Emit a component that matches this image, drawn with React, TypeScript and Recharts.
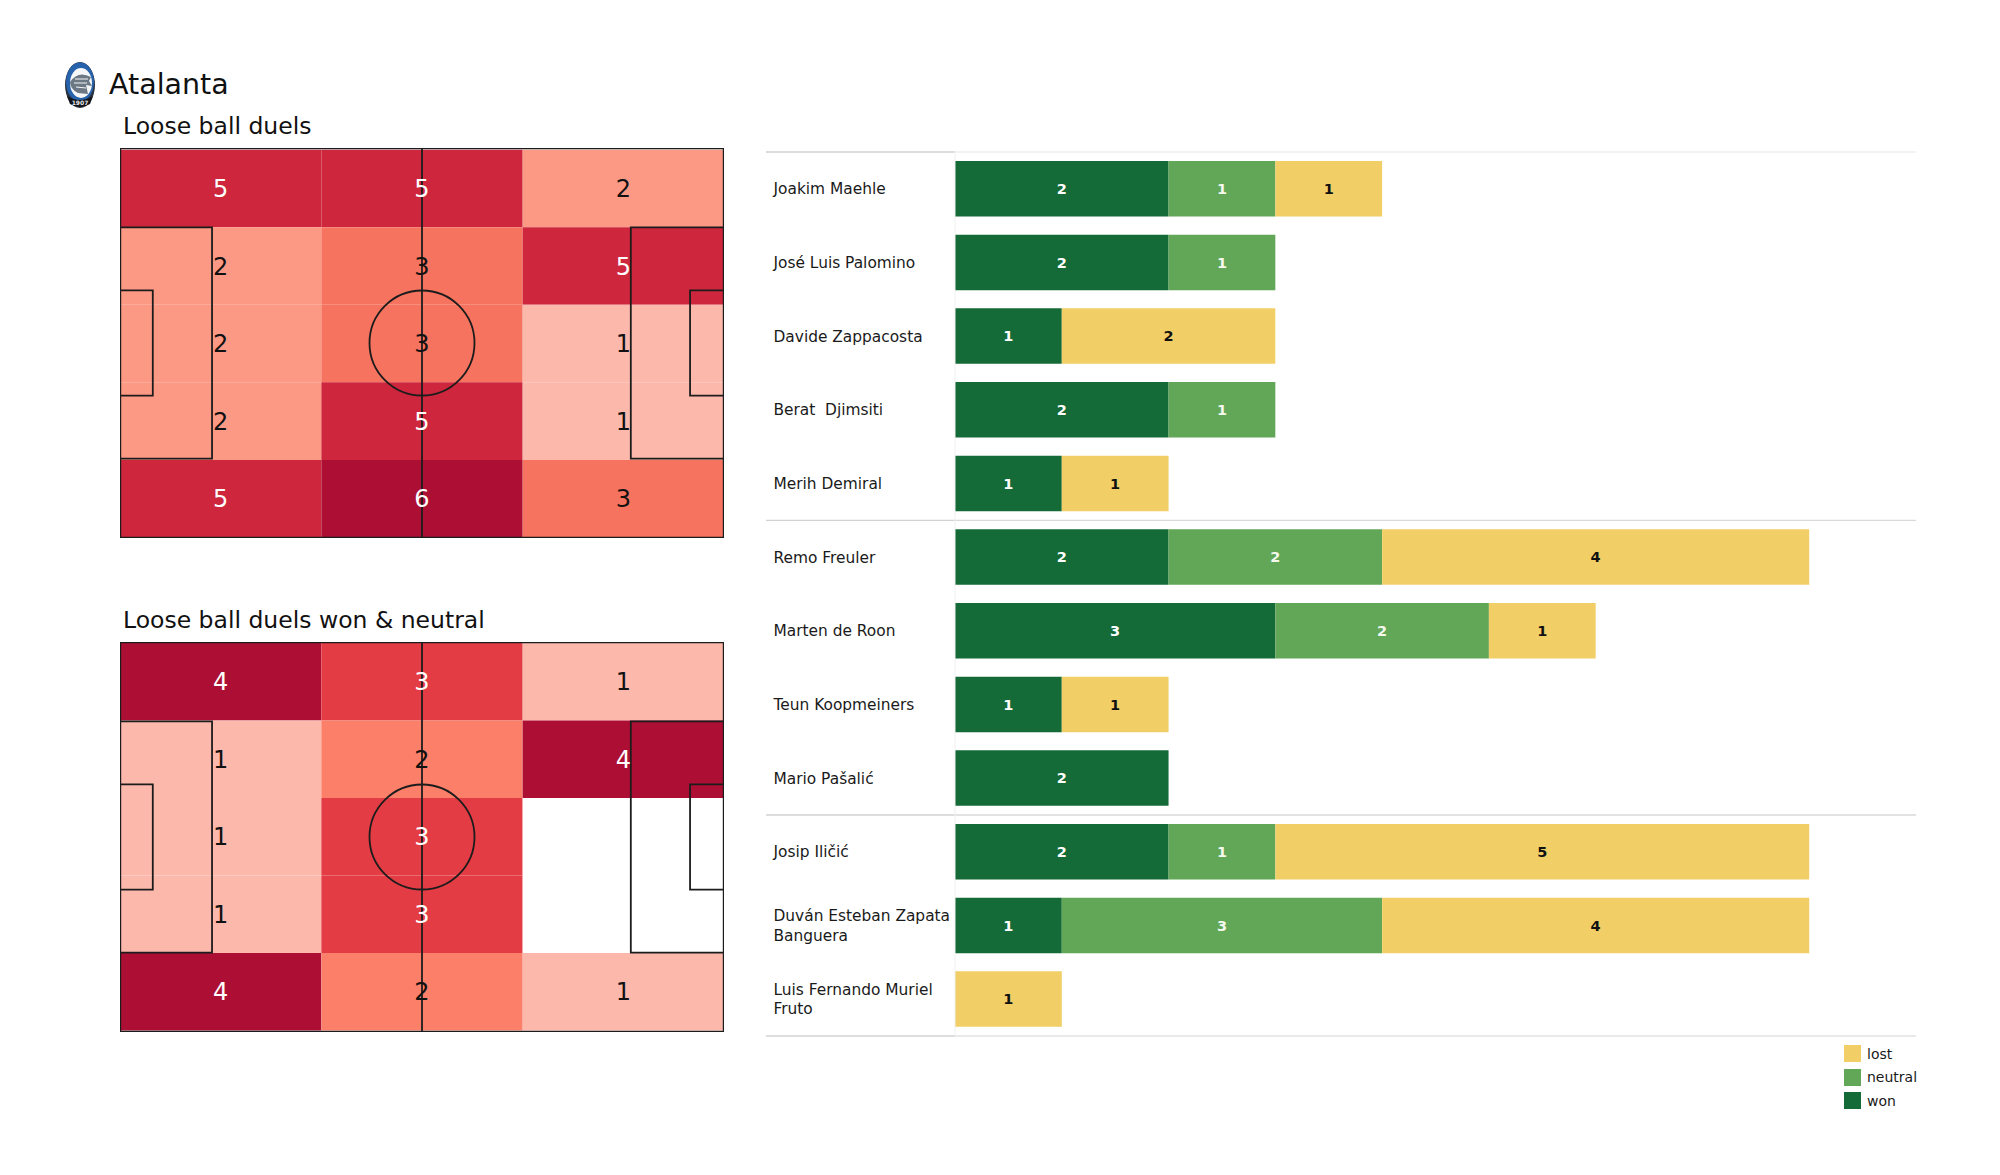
import React from "react";
import {
  BarChart, Bar, XAxis, YAxis, LabelList, Legend, ReferenceLine, ReferenceArea, ReferenceDot, ComposedChart,
} from "recharts";

const FONT = "'DejaVu Sans', sans-serif";

const players = [
  "Joakim Maehle", "José Luis Palomino", "Davide Zappacosta", "Berat  Djimsiti", "Merih Demiral",
  "Remo Freuler", "Marten de Roon", "Teun Koopmeiners", "Mario Pašalić",
  "Josip Iličić", "Duván Esteban Zapata\nBanguera", "Luis Fernando Muriel\nFruto",
];
const won = [2, 2, 1, 2, 1, 2, 3, 1, 2, 2, 1, null];
const neutral = [1, 1, null, 1, null, 2, 2, null, null, 1, 3, null];
const lost = [1, null, 2, null, 1, 4, 1, 1, null, 5, 4, 1];
const groupStarts = ["Joakim Maehle", "Remo Freuler", "Josip Iličić"];
const lastPlayer = "Luis Fernando Muriel\nFruto";

const duelsAll = [
  [5, 5, 2],
  [2, 3, 5],
  [2, 3, 1],
  [2, 5, 1],
  [5, 6, 3],
];
const duelsWon = [
  [4, 3, 1],
  [1, 2, 4],
  [1, 3, 0],
  [1, 3, 0],
  [4, 2, 1],
];
const paletteAll = ["#ffffff", "#FDB8AC", "#FC9985", "#F5735F", "#E43C44", "#CE263C", "#AD0F34"];
const paletteWon = ["#ffffff", "#FDB8AC", "#FB7F69", "#E43C44", "#AD0F34"];

const tableRows = players.map((name, i) => ({ name, won: won[i], neutral: neutral[i], lost: lost[i] }));

const PITCH_W = 105;
const PITCH_H = 68;
const LINE = "#1c1c1c";

function Pitch({ top, grid, palette, whiteFrom, offset }: { top: number; grid: number[][]; palette: string[]; whiteFrom: number; offset: number }) {
  const cw = PITCH_W / 3;
  const ch = 13.52;
  const boxes = [
    [0, 16, 13.84, 54.16],
    [0, 5.7, 24.84, 43.16],
    [88.8, 105, 13.84, 54.16],
    [99.1, 105, 24.84, 43.16],
  ];
  return (
    <div style={{ position: "absolute", left: 120, top, width: 604, height: 390 }}>
      <ComposedChart width={604} height={390} margin={{ top: 0, right: 0, bottom: 0, left: 0 }} data={[{}]}>
        <XAxis type="number" dataKey="x" domain={[0, PITCH_W]} hide allowDataOverflow />
        <YAxis type="number" dataKey="y" domain={[0, PITCH_H]} reversed hide allowDataOverflow />
        {grid.flatMap((row, r) =>
          row.map((v, c) => (
            <ReferenceArea
              key={`${r}-${c}`}
              x1={c * cw}
              x2={(c + 1) * cw}
              y1={offset + r * ch}
              y2={offset + (r + 1) * ch}
              fill={palette[v]}
              fillOpacity={1}
              stroke="none"
              label={
                v > 0
                  ? { value: String(v), position: "center", fontSize: 24, fontFamily: FONT, fill: v >= whiteFrom ? "#ffffff" : "#111111" }
                  : undefined
              }
            />
          ))
        )}
        {boxes.map(([x1, x2, y1, y2], i) => (
          <ReferenceArea key={`b${i}`} x1={x1} x2={x2} y1={y1} y2={y2} fill="none" stroke={LINE} strokeWidth={1.8} />
        ))}
        <ReferenceArea x1={0} x2={PITCH_W} y1={0} y2={PITCH_H} fill="none" stroke={LINE} strokeWidth={2.4} />
        <ReferenceLine segment={[{ x: PITCH_W / 2, y: 0 }, { x: PITCH_W / 2, y: PITCH_H }]} stroke={LINE} strokeWidth={1.8} />
        <ReferenceDot x={PITCH_W / 2} y={PITCH_H / 2} r={52.5} fill="none" stroke={LINE} strokeWidth={1.8} />
      </ComposedChart>
    </div>
  );
}

function PlayerTick({ y, payload }: any) {
  const lines = String(payload.value).split("\n");
  const start = y + 0.5 - ((lines.length - 1) * 19.5) / 2;
  return (
    <text fontFamily={FONT} fontSize={15.4} fill="#1a1a1a" textAnchor="start" dominantBaseline="central">
      {lines.map((l, i) => (
        <tspan key={i} x={773.5} y={start + i * 19.5} style={{ whiteSpace: "pre" }}>
          {l}
        </tspan>
      ))}
    </text>
  );
}

function LegendBox({ payload }: any) {
  const items = [...(payload || [])];
  return (
    <div style={{ fontFamily: FONT, fontSize: 14, color: "#1a1a1a" }}>
      {items.map((it: any) => (
        <div key={it.value} style={{ display: "flex", alignItems: "center", height: 23.5 }}>
          <span style={{ display: "inline-block", width: 17, height: 17, background: it.color, marginRight: 6 }} />
          <span>{it.value}</span>
        </div>
      ))}
    </div>
  );
}

const hideEmpty = (v: any) => (v == null || v === 0 ? "" : v);

function Duels() {
  const labelStyle = { fontFamily: FONT, fontSize: 14.5, fontWeight: 700 };
  const rules = [
    ...groupStarts.map((name, i) => ({ name, position: "start", right: i === 0 ? "#eeeeee" : "#d9d9d9" })),
    { name: lastPlayer, position: "end", right: "#e2e2e2" },
  ];
  return (
    <div style={{ position: "absolute", left: 0, top: 0, width: 2000, height: 1175 }}>
      <BarChart
        width={2000}
        height={1175}
        layout="vertical"
        data={tableRows}
        barSize={55.5}
        margin={{ top: 152, right: 84, bottom: 139, left: 766 }}
      >
        <XAxis type="number" domain={[0, 9]} hide />
        <YAxis type="category" dataKey="name" width={189} axisLine={{ stroke: "#f0f0f0" }} tickLine={false} interval={0} tick={<PlayerTick />} />
        {rules.map((r) => (
          <ReferenceLine key={`r${r.name}`} ifOverflow="visible" position={r.position as any} segment={[{ x: 0, y: r.name }, { x: 9, y: r.name }]} stroke={r.right} strokeWidth={1.4} />
        ))}
        {rules.map((r) => (
          <ReferenceLine key={`l${r.name}`} ifOverflow="visible" position={r.position as any} segment={[{ x: -1.77, y: r.name }, { x: 0, y: r.name }]} stroke="#d2d2d2" strokeWidth={1.4} />
        ))}
        <Bar dataKey="won" stackId="a" fill="#156B37" isAnimationActive={false}>
          <LabelList dataKey="won" position="center" fill="#ffffff" style={labelStyle} formatter={hideEmpty} />
        </Bar>
        <Bar dataKey="neutral" stackId="a" fill="#62A758" isAnimationActive={false}>
          <LabelList dataKey="neutral" position="center" fill="#f4f8ee" style={labelStyle} formatter={hideEmpty} />
        </Bar>
        <Bar dataKey="lost" stackId="a" fill="#F2CE66" isAnimationActive={false}>
          <LabelList dataKey="lost" position="center" fill="#111111" style={labelStyle} formatter={hideEmpty} />
        </Bar>
        <Legend
          layout="vertical"
          align="center"
          verticalAlign="middle"
          content={<LegendBox />}
          wrapperStyle={{ position: "absolute", left: 1844, top: 1042, width: 100, height: 72, margin: 0 }}
        />
      </BarChart>
    </div>
  );
}

function Crest() {
  return (
    <svg style={{ position: "absolute", left: 60, top: 58 }} width={40} height={54} viewBox="0 0 40 54">
      <ellipse cx={20} cy={27} rx={15} ry={23} fill="#2a3440" />
      <ellipse cx={20} cy={24} rx={14} ry={19.5} fill="#2762ad" />
      <ellipse cx={21} cy={25} rx={11} ry={15} fill="#f4f6f8" />
      <path d="M10 24 Q18 12 31 19 L29 23 L32 28 L26 27 L28 36 L18 35 Q10 31 10 24Z" fill="#6d7885" />
      <path d="M15 21 L28 21 M14 25 L27 25 M16 29 L26 30" stroke="#f4f6f8" strokeWidth={1} />
      <path d="M7 38 Q20 46 33 38 L30 46 Q20 52 10 46Z" fill="#11141a" />
      <text x={20} y={46.5} fontSize={6} fontWeight={700} fill="#e8e8e8" textAnchor="middle" fontFamily={FONT}>1907</text>
    </svg>
  );
}

const captionStyle: React.CSSProperties = { position: "absolute", fontFamily: FONT, color: "#111", whiteSpace: "pre", lineHeight: 1 };

export default function App() {
  return (
    <div style={{ position: "absolute", left: 0, top: 0, width: 2000, height: 1175, background: "#fff", overflow: "hidden" }}>
      <Crest />
      <div style={{ ...captionStyle, left: 109, top: 71, fontSize: 28.5 }}>Atalanta</div>
      <div style={{ ...captionStyle, left: 123, top: 115, fontSize: 23.5 }}>Loose ball duels</div>
      <div style={{ ...captionStyle, left: 123, top: 609, fontSize: 23.5 }}>Loose ball duels won &amp; neutral</div>
      <Pitch top={148} grid={duelsAll} palette={paletteAll} whiteFrom={5} offset={0.3} />
      <Pitch top={642} grid={duelsWon} palette={paletteWon} whiteFrom={3} offset={0.15} />
      <Duels />
    </div>
  );
}
